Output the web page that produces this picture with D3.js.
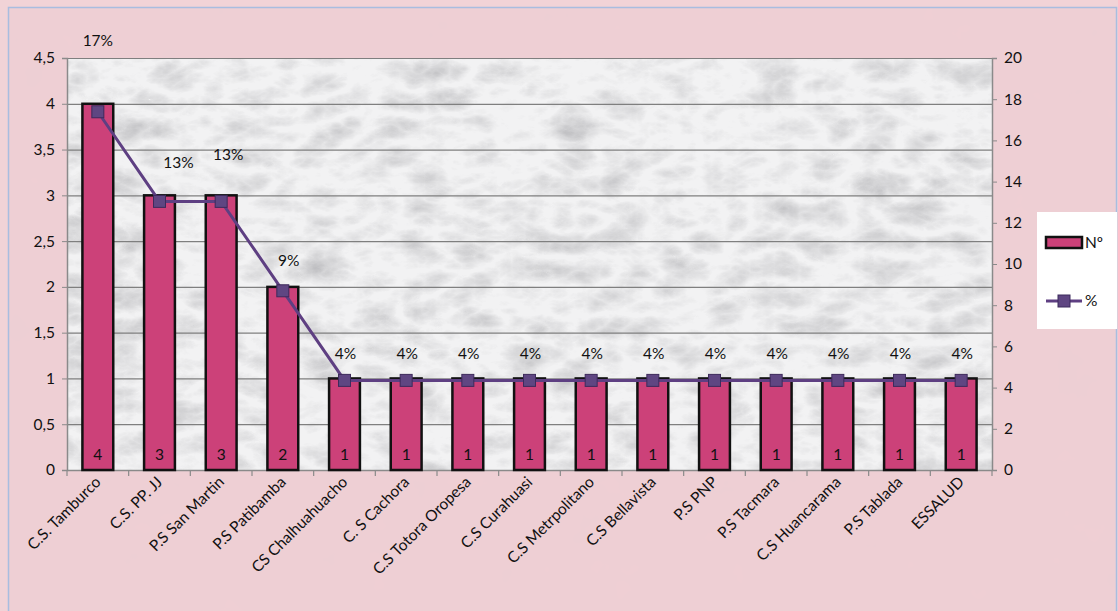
<!DOCTYPE html>
<html><head><meta charset="utf-8">
<script src="https://cdn.jsdelivr.net/npm/d3@7"></script>
<style>
html,body{margin:0;padding:0;background:#fff;}
svg{display:block;font-family:Lato,"Open Sans",sans-serif;}
</style></head>
<body>
<svg id="chart" width="1118" height="611"></svg>
<script>
const categories = ["C.S. Tamburco","C.S. PP. JJ","P.S San Martin","P.S Patibamba","CS Chalhuahuacho","C. S Cachora","C.S Totora Oropesa","C.S Curahuasi","C.S Metrpolitano","C.S Bellavista","P.S PNP","P.S Tacmara","C.S Huancarama","P.S Tablada","ESSALUD"];
const counts = [4,3,3,2,1,1,1,1,1,1,1,1,1,1,1];
const percents = [17.39,13.04,13.04,8.70,4.35,4.35,4.35,4.35,4.35,4.35,4.35,4.35,4.35,4.35,4.35];
const pctLabels = ["17%","13%","13%","9%","4%","4%","4%","4%","4%","4%","4%","4%","4%","4%","4%"];
const leftTicks = [0,0.5,1,1.5,2,2.5,3,3.5,4,4.5];
const leftTickLabels = ["0","0,5","1","1,5","2","2,5","3","3,5","4","4,5"];
const rightTicks = [0,2,4,6,8,10,12,14,16,18,20];
const seriesNames = ["Nº","%"];

// layout (style, not data)
const labelShift = [[0,-66],[19,-33],[7,-41],[6,-25]];
const FS = 15.5;
const W=1118,H=611;
const m={left:67,right:992,top:58,bottom:470};
const svg=d3.select("#chart");
const defs=svg.append("defs");

const f1=defs.append("filter").attr("id","pinkTex").attr("x",0).attr("y",0).attr("width","100%").attr("height","100%");
f1.append("feTurbulence").attr("type","fractalNoise").attr("baseFrequency","0.02").attr("numOctaves",4).attr("seed",3).attr("result","n");
f1.append("feColorMatrix").attr("in","n").attr("type","matrix")
  .attr("values","0 0 0 0 0.80  0 0 0 0 0.62  0 0 0 0 0.66  0.35 0 0 0 -0.05").attr("result","c");
f1.append("feComposite").attr("in","c").attr("in2","SourceGraphic").attr("operator","over");

const f2=defs.append("filter").attr("id","marble").attr("x",0).attr("y",0).attr("width","100%").attr("height","100%");
f2.append("feTurbulence").attr("type","turbulence").attr("baseFrequency","0.02 0.035").attr("numOctaves",5).attr("seed",11).attr("result","n");
f2.append("feColorMatrix").attr("in","n").attr("type","matrix")
  .attr("values","0 0 0 0 0.42  0 0 0 0 0.42  0 0 0 0 0.44  1.0 0 0 0 -0.2").attr("result","c");
f2.append("feComposite").attr("in","c").attr("in2","SourceGraphic").attr("operator","over");

svg.append("rect").attr("x",0).attr("y",0).attr("width",W).attr("height",H).attr("fill","#f1d3d7");
svg.append("rect").attr("x",8).attr("y",7).attr("width",W-10).attr("height",H-5).attr("fill","#efcfd4").attr("filter","url(#pinkTex)");
svg.append("rect").attr("x",8.5).attr("y",7.5).attr("width",W-10).attr("height",H-5).attr("fill","none").attr("stroke","#a8bde0").attr("stroke-width",1.5);

svg.append("rect").attr("x",m.left).attr("y",m.top).attr("width",m.right-m.left).attr("height",m.bottom-m.top)
  .attr("fill","#f2f2f3").attr("filter","url(#marble)");

const x=d3.scaleBand().domain(categories).range([m.left,m.right]).paddingInner(0).paddingOuter(0);
const y=d3.scaleLinear().domain([0,4.5]).range([m.bottom,m.top]);
const y2=d3.scaleLinear().domain([0,20]).range([m.bottom,m.top]);

svg.append("g").selectAll("line").data(leftTicks.filter(d=>d>0)).join("line")
  .attr("x1",m.left).attr("x2",m.right).attr("y1",d=>y(d)+0.5).attr("y2",d=>y(d)+0.5)
  .attr("stroke","#7f7f7f").attr("stroke-width",1.2);

const la=svg.append("g").attr("transform",`translate(${m.left},0)`)
  .call(d3.axisLeft(y).tickValues(leftTicks).tickFormat((d,i)=>leftTickLabels[i]).tickSizeOuter(0).tickSize(5).tickPadding(7));
la.select(".domain").attr("stroke","#8a8a8a").attr("stroke-width",1.5);
la.selectAll(".tick line").attr("stroke","#8a8a8a");
la.selectAll("text").attr("font-size",FS).attr("fill","#111").attr("font-family","Lato,'Open Sans',sans-serif");

const ra=svg.append("g").attr("transform",`translate(${m.right},0)`)
  .call(d3.axisRight(y2).tickValues(rightTicks).tickSizeOuter(0).tickSize(5).tickPadding(7));
ra.select(".domain").attr("stroke","#8a8a8a").attr("stroke-width",1.5);
ra.selectAll(".tick line").attr("stroke","#8a8a8a");
ra.selectAll("text").attr("font-size",FS).attr("fill","#111").attr("font-family","Lato,'Open Sans',sans-serif");

const ba=svg.append("g").attr("transform",`translate(0,${m.bottom})`)
  .call(d3.axisBottom(x).tickSize(0).tickFormat(""));
ba.select(".domain").attr("stroke","#8a8a8a").attr("stroke-width",1.5);
const bounds=categories.map((c,i)=>x(c)).concat([m.right]);
svg.append("g").selectAll("line").data(bounds).join("line")
  .attr("x1",d=>d).attr("x2",d=>d).attr("y1",m.bottom).attr("y2",m.bottom+6).attr("stroke","#8a8a8a").attr("stroke-width",1.2);

const bw=x.bandwidth()*0.5;
svg.append("g").selectAll("rect").data(categories).join("rect")
  .attr("x",(d)=>x(d)+(x.bandwidth()-bw)/2)
  .attr("y",(d,i)=>y(counts[i]))
  .attr("width",bw)
  .attr("height",(d,i)=>y(0)-y(counts[i]))
  .attr("fill","#cc4179").attr("stroke","#111").attr("stroke-width",2.5);

svg.append("g").selectAll("text").data(categories).join("text")
  .attr("x",d=>x(d)+x.bandwidth()/2)
  .attr("y",m.bottom-10)
  .attr("text-anchor","middle").attr("font-size",FS).attr("fill","#111")
  .text((d,i)=>counts[i]);

const line=d3.line().x((d,i)=>x(categories[i])+x.bandwidth()/2).y(d=>y2(d));
svg.append("path").datum(percents).attr("d",line).attr("fill","none").attr("stroke","#5e3f82").attr("stroke-width",3);
svg.append("g").selectAll("rect").data(percents).join("rect")
  .attr("x",(d,i)=>x(categories[i])+x.bandwidth()/2-6)
  .attr("y",d=>y2(d)-6)
  .attr("width",12).attr("height",12)
  .attr("fill","#5f4682").attr("stroke","#3d2a5c").attr("stroke-width",1);

svg.append("g").selectAll("text").data(percents).join("text")
  .attr("x",(d,i)=>x(categories[i])+x.bandwidth()/2+(labelShift[i]?labelShift[i][0]:1))
  .attr("y",(d,i)=>y2(d)+(labelShift[i]?labelShift[i][1]:-21))
  .attr("text-anchor","middle").attr("font-size",FS).attr("fill","#111")
  .text((d,i)=>pctLabels[i]);

svg.append("g").selectAll("text").data(categories).join("text")
  .attr("transform",d=>`translate(${x(d)+x.bandwidth()/2+4},${m.bottom+13}) rotate(-45)`)
  .attr("text-anchor","end").attr("font-size",FS).attr("fill","#111")
  .text(d=>d);

const lg=svg.append("g").attr("transform","translate(1037,212)");
lg.append("rect").attr("width",80).attr("height",117).attr("fill","#fff");
lg.append("rect").attr("x",9).attr("y",25).attr("width",36).attr("height",11).attr("fill","#cc4179").attr("stroke","#111").attr("stroke-width",2.5);
lg.append("text").attr("x",48).attr("y",36).attr("font-size",FS).attr("fill","#111").text(seriesNames[0]);
lg.append("line").attr("x1",9).attr("x2",45).attr("y1",89).attr("y2",89).attr("stroke","#5e3f82").attr("stroke-width",3);
lg.append("rect").attr("x",21).attr("y",83).attr("width",12).attr("height",12).attr("fill","#5f4682").attr("stroke","#3d2a5c");
lg.append("text").attr("x",48).attr("y",94).attr("font-size",FS).attr("fill","#111").text(seriesNames[1]);
</script>
</body></html>
